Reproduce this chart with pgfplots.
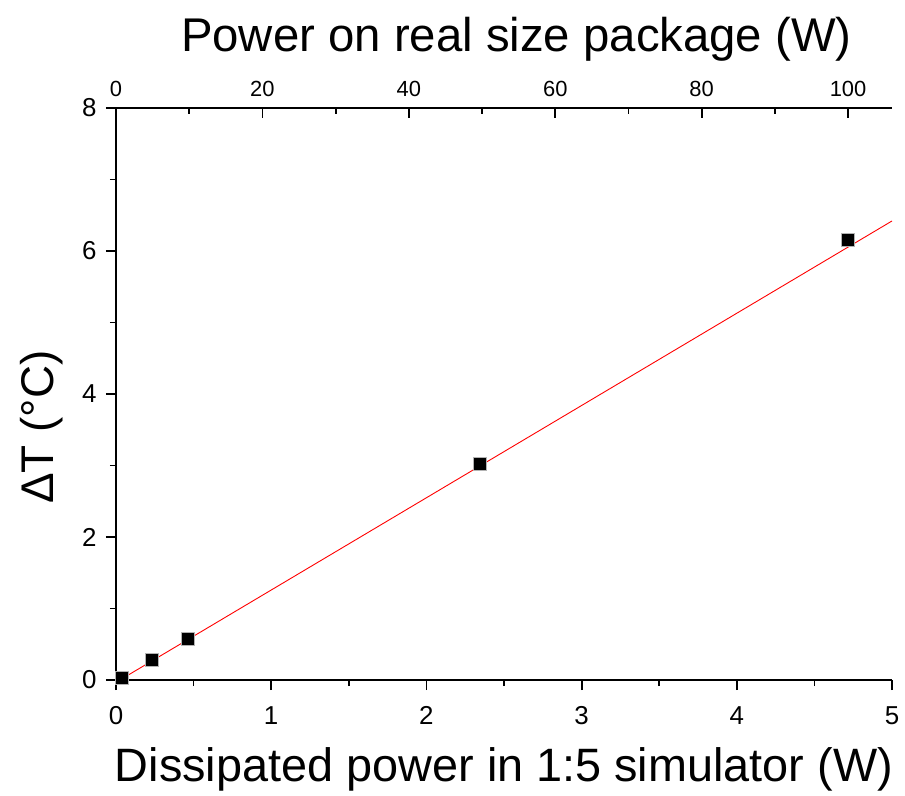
\documentclass[border=0pt]{standalone}
\usepackage{fontspec}
\setmainfont{Liberation Sans}
\usepackage{pgfplots}
\pgfplotsset{compat=1.18}
\begin{document}
\begin{tikzpicture}[x=1bp,y=1bp]
\useasboundingbox (-116,-116) rectangle (789,680);
\pgfplotsset{
  myaxis/.style={
    scale only axis, width=776bp, height=572bp,
    at={(0,0)}, anchor=south west,
    major tick length=10bp, minor tick length=6bp,
    every tick/.style={line width=1.8bp, black},
    axis line style={line width=2.2bp},
    /pgf/number format/assume math mode=true,
  }
}
\begin{axis}[myaxis,
  xmin=0, xmax=5, ymin=0, ymax=8,
  tick align=outside,
  axis x line*=bottom, axis y line*=left,
  xtick={0,1,2,3,4,5}, minor xtick={0.5,1.5,2.5,3.5,4.5},
  ytick={0,2,4,6,8}, minor ytick={1,3,5,7},
  tick label style={font=\fontsize{26}{30}\selectfont},
  xticklabel style={yshift=-13bp},
  yticklabel style={xshift=-6bp},
  xlabel={Dissipated power in 1:5 simulator (W)},
  ylabel={ΔT (°C)},
  xlabel style={font=\fontsize{47}{52}\selectfont, at={(axis description cs:0.5,-0.1766)}, anchor=base},
  ylabel style={font=\fontsize{46}{52}\selectfont, at={(axis description cs:-0.0799,0.442)}, anchor=base},
  clip=false,
]
\addplot[red, line width=0.9bp] coordinates {(0.025,0) (5,6.42)};
\addplot[only marks, mark=square*, mark size=6.5bp, mark options={fill=black, draw=gray!60, line width=0.6bp}]
  coordinates {(0.039,0.03) (0.232,0.28) (0.464,0.57) (2.345,3.02) (4.716,6.15)};
\end{axis}
\begin{axis}[myaxis,
  xmin=0, xmax=106, ymin=0, ymax=8,
  tick align=inside,
  axis x line*=top, axis y line=none,
  xtick={0,20,40,60,80,100}, minor xtick={10,30,50,70,90},
  tick label style={font=\fontsize{22}{26}\selectfont},
  xticklabel style={yshift=8bp},
  xlabel={Power on real size package (W)},
  xlabel style={font=\fontsize{47.5}{52}\selectfont, at={(axis description cs:0.516,1.098)}, anchor=base},
]
\addplot[draw=none] coordinates {(0,0)};
\end{axis}
\end{tikzpicture}
\end{document}
